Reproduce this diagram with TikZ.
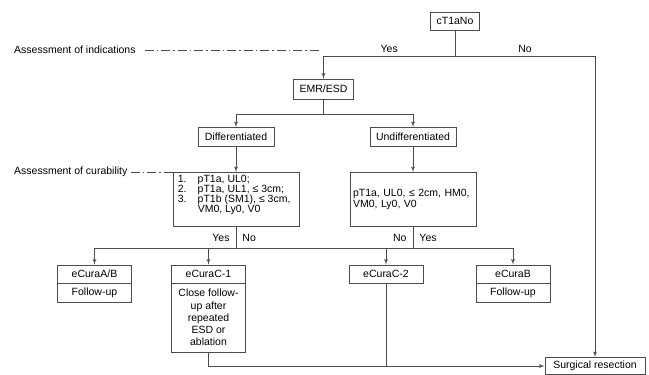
\documentclass[tikz,border=0pt]{standalone}
\usepackage{fontspec}
\setmainfont{Liberation Sans}
\usetikzlibrary{arrows,positioning,calc}
\tikzset{
    block/.style = {draw=black!70, rectangle, line width=0.9pt,
        minimum height=18pt, inner xsep=6pt, inner ysep=2pt, align=center},
    head/.style = {block, minimum width=74pt},
    curbox/.style = {block, minimum width=126pt, minimum height=54pt, inner xsep=3pt},
    line/.style = {draw=black!70, line width=0.9pt},
    arrow/.style = {line, -latex'},
    dashdot/.style = {draw=black!70, line width=0.9pt, dash pattern=on 9pt off 3pt on 1.5pt off 3pt},
    lbl/.style = {inner xsep=6pt},
    note/.style = {anchor=west, inner sep=0pt},
    listtext/.style = {inner sep=0pt, align=left, font=\fontsize{10.5}{10.3}\selectfont}
}

\begin{document}
\begin{tikzpicture}[x=1pt, y=-1pt, >=latex', node distance=18.5pt, font=\fontsize{10.5}{12}\selectfont]
        \useasboundingbox (0,0) rectangle (649,375);
        \node [block, minimum width=49pt] (ctano) at (455,21) {cT1aNo};
        \node [block, minimum height=20pt] (emresd) at (323.5,89) {EMR/ESD};
        \node [block, minimum width=76pt, minimum height=19pt] (diff) at (236,137) {Differentiated};
        \node [block, minimum width=85pt, minimum height=19pt, right of=diff, node distance=177pt] (undiff) {Undifferentiated};
        \node [curbox, below of=diff, node distance=62.5pt] (curdiff) {};
        \node [listtext, anchor=north west] (curdifftxt) at ($(curdiff.north west)+(5,2.5)$)
            {\makebox[20pt][l]{1.}pT1a, UL0;\\ \makebox[20pt][l]{2.}pT1a, UL1, ≤ 3cm;\\
             \makebox[20pt][l]{3.}pT1b (SM1), ≤ 3cm,\\ \hspace*{20pt}VM0, Ly0, V0};
        \node [curbox, below of=undiff, node distance=62.5pt, text width=120pt, align=left,
            font=\fontsize{10.5}{11}\selectfont] (curundiff) {pT1a, UL0, ≤ 2cm, HM0,\\VM0, Ly0, V0};
        \node [head] (ecuraab) at (94.5,274) {eCuraA/B};
        \node [head, right of=ecuraab, node distance=114pt] (ecurac1) {eCuraC-1};
        \node [head, right of=ecurac1, node distance=177.5pt] (ecurac2) {eCuraC-2};
        \node [head, right of=ecurac2, node distance=127pt] (ecurab) {eCuraB};
        \node [head, minimum height=19pt, below of=ecuraab] (followab) {Follow-up};
        \node [head, minimum height=19pt, below of=ecurab] (followb) {Follow-up};
        \node [head, minimum height=69pt, below of=ecurac1, node distance=43.5pt,
            font=\fontsize{10.5}{12.2}\selectfont] (closefu) {Close follow-\\up after\\repeated\\ESD or\\ablation};
        \node [block, minimum width=100pt, minimum height=17pt] (surgery) at (595,366) {Surgical resection};
        % assessment lines
        \node [note] (indlabel) at (14,50) {Assessment of indications};
        \coordinate (indend) at (319,50);
        \draw [dashdot, shorten <=9pt] (indlabel) -- (indend);
        \node [note] (curlabel) at (14,172) {Assessment of curability};
        \draw [dashdot, shorten <=3pt] (curlabel.east) -- (curlabel.east -| curdiff.north west);
        % indications
        \coordinate (split) at (455,56);
        \draw [arrow] (ctano) -- (split) -- node[above] {Yes} (split -| emresd) -- (emresd);
        \draw [arrow] (split) -- node[above] {No} (split -| surgery) -- (surgery);
        \coordinate (fork) at (0,114);
        \draw [line] (emresd) -- (emresd |- fork);
        \draw [line] (diff |- fork) -- (undiff |- fork);
        \foreach \n in {diff,undiff}{
            \draw [arrow] (\n |- fork) -- (\n);
        }
        \draw [arrow] (diff) -- (curdiff);
        \draw [arrow] (undiff) -- (curundiff);
        % curability
        \coordinate (bus) at (0,248);
        \draw [line] (curdiff) -- node[lbl, left] {Yes} node[lbl, right] {No} (curdiff |- bus);
        \draw [line] (curundiff) -- node[lbl, left] {No} node[lbl, right] {Yes} (curundiff |- bus);
        \draw [line] (ecuraab |- bus) -- (ecurab |- bus);
        \foreach \n in {ecuraab,ecurac1,ecurac2,ecurab}{
            \draw [arrow] (\n |- bus) -- (\n);
        }
        \draw [arrow] (closefu) |- (surgery);
        \draw [line] (ecurac2) -- (ecurac2 |- surgery);
\end{tikzpicture}
\end{document}
